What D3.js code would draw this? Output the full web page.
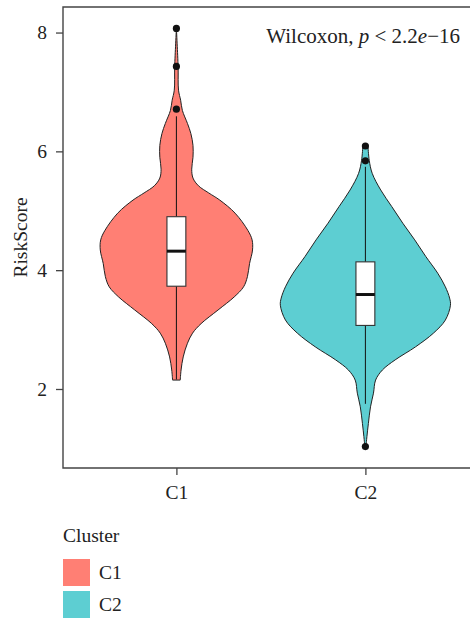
<!DOCTYPE html>
<html>
<head>
<meta charset="utf-8">
<script src="https://cdn.jsdelivr.net/npm/d3@7"></script>
<style>
  body { margin: 0; background: #fff; }
  text { font-family: "Liberation Serif", serif; fill: #222; }
</style>
</head>
<body>
<div id="violin"></div>
<script>
// categories
var clusters = ["C1", "C2"];
var yTicks = [2, 4, 6, 8];

// violin outlines: [RiskScore, relative density]
var densityC1 = [
  [8.07, 0.00], [7.43, 0.02], [7.03, 0.025], [6.86, 0.05], [6.69, 0.07],
  [6.47, 0.13], [6.30, 0.17], [6.10, 0.195], [5.90, 0.195], [5.70, 0.18],
  [5.55, 0.195], [5.42, 0.26], [5.30, 0.38], [5.18, 0.51], [4.96, 0.69],
  [4.67, 0.84], [4.51, 0.89], [4.34, 0.895], [4.11, 0.86], [3.89, 0.835],
  [3.72, 0.79], [3.55, 0.68], [3.33, 0.49], [3.10, 0.29], [2.94, 0.19],
  [2.77, 0.13], [2.54, 0.08], [2.32, 0.055], [2.15, 0.045]
];
var densityC2 = [
  [6.09, 0.03], [5.85, 0.045], [5.63, 0.08], [5.35, 0.18], [5.07, 0.31],
  [4.79, 0.44], [4.51, 0.58], [4.23, 0.71], [3.95, 0.85], [3.72, 0.94],
  [3.53, 0.99], [3.41, 1.00], [3.16, 0.94], [2.94, 0.80], [2.71, 0.59],
  [2.49, 0.35], [2.32, 0.20], [2.15, 0.12], [1.93, 0.095], [1.70, 0.06],
  [1.42, 0.035], [1.20, 0.018], [1.03, 0.006]
];

// box plot stats per cluster
var boxQ1 = [3.73, 3.07];
var boxMedian = [4.32, 3.59];
var boxQ3 = [4.90, 4.14];
var whiskerLow = [2.16, 1.75];
var whiskerHigh = [6.59, 5.74];
var outliers = [[8.07, 7.43, 6.71], [6.09, 5.84, 1.03]];

var palette = ["#FF7F74", "#5DCED2"];

var width = 470, height = 620;
var margin = ({top: 7, left: 63, bottom: 468});
var fontSize = 19.5;

var svg = d3.select("#violin")
  .append("svg")
  .attr("width", width)
  .attr("height", height);

// panel extends past the right edge of the picture (cropped)
var x = d3.scalePoint()
  .domain(clusters)
  .range([margin.left, 478.8])
  .padding(0.6);

var y = d3.scaleLinear()
  .domain([0.67, 8.43])
  .range([margin.bottom, margin.top]);

// density -> half width, widest violin gets 0.9 of a step
var w = d3.scaleLinear()
  .domain([0, 1])
  .range([0, 0.45 * x.step()]);

var violins = [densityC1, densityC2];

var area = d3.area()
  .curve(d3.curveCatmullRom)
  .y(d => y(d[0]));

var group = svg.append("g")
  .selectAll("g")
  .data(clusters)
  .join("g")
  .attr("transform", d => `translate(${x(d)},0)`);

group.append("path")
  .attr("fill", (d, i) => palette[i])
  .attr("stroke", "#222")
  .attr("stroke-width", 1)
  .attr("d", (d, i) => area.x0(p => -w(p[1])).x1(p => w(p[1]))(violins[i]) + "Z");

var boxW = 0.1 * x.step();

// whiskers
group.append("line")
  .attr("stroke", "#111")
  .attr("x1", 0).attr("x2", 0)
  .attr("y1", (d, i) => y(boxQ3[i]))
  .attr("y2", (d, i) => y(whiskerHigh[i]));
group.append("line")
  .attr("stroke", "#111")
  .attr("x1", 0).attr("x2", 0)
  .attr("y1", (d, i) => y(boxQ1[i]))
  .attr("y2", (d, i) => y(whiskerLow[i]));

group.append("rect")
  .attr("x", -boxW / 2)
  .attr("width", boxW)
  .attr("y", (d, i) => y(boxQ3[i]))
  .attr("height", (d, i) => y(boxQ1[i]) - y(boxQ3[i]))
  .attr("fill", "#fff")
  .attr("stroke", "#333")
  .attr("stroke-width", 1.1);

group.append("line")
  .attr("stroke", "#111")
  .attr("stroke-width", 3)
  .attr("x1", -boxW / 2).attr("x2", boxW / 2)
  .attr("y1", (d, i) => y(boxMedian[i]))
  .attr("y2", (d, i) => y(boxMedian[i]));

group.each(function(d, i) {
  d3.select(this).selectAll("circle")
    .data(outliers[i])
    .join("circle")
    .attr("cx", 0)
    .attr("cy", v => y(v))
    .attr("r", 3.6)
    .attr("fill", "#111");
});

// panel border (left, top, bottom)
svg.append("path")
  .attr("fill", "none")
  .attr("stroke", "#444")
  .attr("stroke-width", 1.4)
  .attr("d", `M${width + 10},${margin.top}H${margin.left}V${margin.bottom}H${width + 10}`);

var yAxis = g => g
  .attr("transform", `translate(${margin.left},0)`)
  .call(d3.axisLeft(y).tickValues(yTicks).tickSize(7).tickSizeOuter(0).tickPadding(9))
  .call(g => g.select(".domain").remove());

var xAxis = g => g
  .attr("transform", `translate(0,${margin.bottom})`)
  .call(d3.axisBottom(x).tickSize(7).tickSizeOuter(0).tickPadding(10))
  .call(g => g.select(".domain").remove());

svg.append("g").call(yAxis);
svg.append("g").call(xAxis);

svg.selectAll(".tick line").attr("stroke", "#444").attr("stroke-width", 1.3);
svg.selectAll(".tick text")
  .attr("font-family", "Liberation Serif, serif")
  .attr("font-size", fontSize)
  .attr("fill", "#222");

svg.append("text")
  .attr("transform", `translate(26.5,${(margin.top + margin.bottom) / 2}) rotate(-90)`)
  .attr("text-anchor", "middle")
  .attr("font-size", fontSize)
  .text("RiskScore");

// test annotation
var note = svg.append("text")
  .attr("x", 460)
  .attr("y", 43)
  .attr("text-anchor", "end")
  .attr("font-size", 21);
note.append("tspan").text("Wilcoxon, ");
note.append("tspan").attr("font-style", "italic").text("p");
note.append("tspan").text(" < 2.2");
note.append("tspan").attr("font-style", "italic").text("e");
note.append("tspan").text("\u221216");

// legend
var legend = svg.append("g").attr("transform", `translate(${margin.left},0)`);
legend.append("text")
  .attr("x", 0).attr("y", 541.7)
  .attr("font-size", fontSize)
  .text("Cluster");
var keys = legend.selectAll("g.key")
  .data(clusters)
  .join("g")
  .attr("class", "key")
  .attr("transform", (d, i) => `translate(0,${559 + i * 32})`);
keys.append("rect")
  .attr("width", 27).attr("height", 27)
  .attr("fill", (d, i) => palette[i]);
keys.append("text")
  .attr("x", 36).attr("y", 13.5)
  .attr("dy", "0.35em")
  .attr("font-size", fontSize)
  .text(d => d);
</script>
</body>
</html>
